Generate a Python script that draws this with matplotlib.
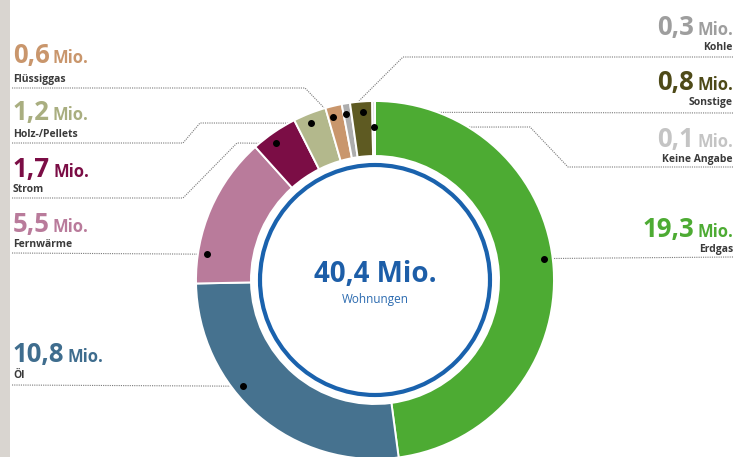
import matplotlib
matplotlib.use('Agg')
import numpy as np
import matplotlib.pyplot as plt
from matplotlib.patches import Circle, Rectangle

# Wohnungen nach Heizenergieträger, in Mio.
categories = ['Erdgas', 'Öl', 'Fernwärme', 'Strom', 'Holz-/Pellets',
              'Flüssiggas', 'Kohle', 'Sonstige', 'Keine Angabe']
values = [19.3, 10.8, 5.5, 1.7, 1.2, 0.6, 0.3, 0.8, 0.1]
total = 40.4
colors = ['#4dab33', '#46728f', '#b97b9b', '#7b0d45', '#b3b88c',
          '#c9966c', '#adadad', '#5e5a22', '#d8d8d8']
text_colors = ['#4dab33', '#3f6d8e', '#b97b9b', '#7b0d45', '#a9ae80',
               '#c9966c', '#9e9e9e', '#4e4a18', '#c4c4c4']

# label layout: side, number baseline, name baseline, leader path (px), dot position in wedge
layout = {
    'Erdgas':        ('R', 237, 252, [(733, 257), (543, 257)], 0.48, 0.950),
    'Öl':            ('L', 362, 378, [(12, 385), (243, 385)], 0.61, 0.948),
    'Fernwärme':     ('L', 232, 247, [(12, 253), (207, 253)], 0.20, 0.952),
    'Strom':         ('L', 177, 192, [(12, 198), (183, 198), (237, 143), (276, 143)], 0.39, 0.944),
    'Holz-/Pellets': ('L', 120, 137, [(12, 143), (183, 143), (200, 123), (311, 123)], 0.42, 0.947),
    'Flüssiggas':    ('L', 63, 82, [(12, 88), (305, 88), (333, 117)], 0.30, 0.940),
    'Kohle':         ('R', 35, 50, [(733, 57), (403, 57), (346, 114)], 0.27, 0.941),
    'Sonstige':      ('R', 90, 105, [(733, 113), (363, 112)], 0.55, 0.940),
    'Keine Angabe':  ('R', 147, 162, [(733, 167), (568, 167), (530, 127), (373, 127)], 0.50, 0.854),
}

plt.rcParams['font.family'] = ['Open Sans', 'DejaVu Sans']

W, H = 737, 457
fig = plt.figure(figsize=(W / 100, H / 100), dpi=100)
ax = fig.add_axes([0, 0, 1, 1])

cx, cy, R = 375, 280, 179
wedges, _ = ax.pie(values, colors=colors, startangle=-90, counterclock=True,
                   radius=R, center=(cx, cy),
                   wedgeprops=dict(width=55, edgecolor='white', linewidth=1.4))
for w in wedges:
    w.set_zorder(3)

ax.add_patch(Circle((cx, cy), 115, fill=False, edgecolor='#1a62ad', linewidth=3.0, zorder=4))
ax.add_patch(Rectangle((0, 0), 10, H, facecolor='#d9d5d0', edgecolor='none', zorder=0))

ax.set_xlim(0, W)
ax.set_ylim(H, 0)
ax.set_aspect('equal')
ax.axis('off')

renderer = fig.canvas.get_renderer()

for cat, val, w, col, tcol in zip(categories, values, wedges, colors, text_colors):
    side, yb, yn, path, frac, rfrac = layout[cat]
    th = np.radians(w.theta1 + frac * (w.theta2 - w.theta1))
    dx, dy = cx + rfrac * R * np.cos(th), cy + rfrac * R * np.sin(th)
    pts = path[:-1] + [(dx, dy)]
    xs, ys = zip(*pts)
    ax.plot(xs, ys, color='#7a7a7a', lw=0.8, ls=(0, (1, 1)), zorder=2)
    ax.plot(dx, dy, 'o', color='black', markersize=4, zorder=6)

    num = f'{val:.1f}'.replace('.', ',')
    if side == 'L':
        t = ax.text(13, yb, num, fontsize=18.5, fontweight='bold', color=tcol,
                    ha='left', va='baseline')
        bb = t.get_window_extent(renderer)
        ax.text(13 + bb.width + 3, yb, 'Mio.', fontsize=12, fontweight='bold',
                color=tcol, ha='left', va='baseline')
        ax.text(13, yn, cat, fontsize=7.5, fontweight='bold', color='#3a3a3a',
                ha='left', va='baseline')
    else:
        m = ax.text(733, yb, 'Mio.', fontsize=12, fontweight='bold', color=tcol,
                    ha='right', va='baseline')
        bb = m.get_window_extent(renderer)
        ax.text(733 - bb.width - 3, yb, num, fontsize=18.5, fontweight='bold',
                color=tcol, ha='right', va='baseline')
        ax.text(733, yn, cat, fontsize=7.5, fontweight='bold', color='#3a3a3a',
                ha='right', va='baseline')

ax.text(cx, 282, f'{total:.1f}'.replace('.', ',') + ' Mio.', fontsize=20,
        fontweight='bold', color='#1d5ea8', ha='center', va='baseline')
ax.text(cx, 303, 'Wohnungen', fontsize=8.5, color='#2c6bb0', ha='center', va='baseline')

plt.savefig('out.png', dpi=100)
